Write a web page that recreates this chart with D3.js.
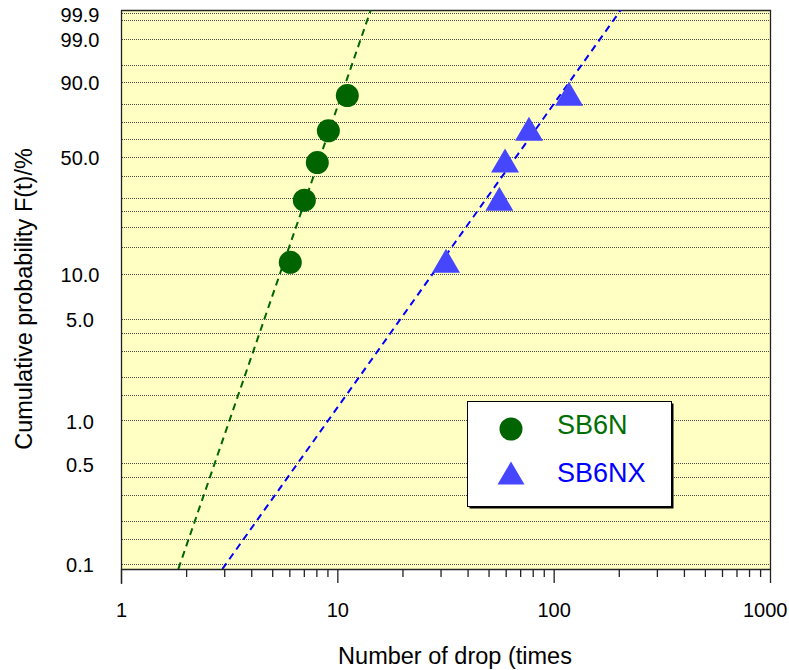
<!DOCTYPE html>
<html>
<head>
<meta charset="utf-8">
<script src="https://cdn.jsdelivr.net/npm/d3@7"></script>
<style>
  html, body { margin: 0; padding: 0; background: #fff; }
  svg { display: block; }
  text { font-family: Arial, "Liberation Sans", Helvetica, sans-serif; }
</style>
</head>
<body>
<svg id="chart" width="789" height="670"></svg>
<script>
// ---- data ----
const sb6nTimes  = [6.06, 7.04, 8.08, 9.09, 11.12];
const sb6nF      = [11.9, 29.1, 46.7, 64.9, 84.2];          // cumulative %
const sb6nxTimes = [31.8, 56.1, 59.6, 76.9, 117.8];
const sb6nxF     = [12.2, 29.7, 47.8, 66.2, 85.1];          // cumulative %
const sb6nFit    = { beta: 4.384, eta: 9.07 };              // Weibull fit line
const sb6nxFit   = { beta: 2.117, eta: 79.9 };
const seriesNames = ["SB6N", "SB6NX"];
const yGridValues = [99.9, 99.8, 99, 95, 90, 80, 70, 60, 50, 40, 30, 25, 20, 15, 10, 5, 4, 3, 2, 1.5, 1, 0.5, 0.4, 0.3, 0.2, 0.15, 0.1];
const yTickLabels = ["99.9", "99.0", "90.0", "50.0", "10.0", "5.0", "1.0", "0.5", "0.1"];
const xTickValues = [1, 10, 100, 1000];
const xTickLabels = ["1", "10", "100", "1000"];
const xTitle = "Number of drop (times";
const yTitle = "Cumulative probability F(t)/%";

// ---- layout ----
const L = 121, R = 770, T = 10, B = 569;
const svg = d3.select("#chart");
const weib = p => Math.log(-Math.log(1 - p / 100));

const x = d3.scaleLog().domain([1, 1000]).range([L, R]);
const y = d3.scaleLinear().domain([weib(0.092), weib(99.932)]).range([B, T]);

// plot background
svg.append("rect").attr("x", L).attr("y", T).attr("width", R - L + 1).attr("height", B - T)
  .attr("fill", "#ffffc4");

// gridlines
svg.append("g").selectAll("line").data(yGridValues).join("line")
  .attr("x1", L + 1).attr("x2", R)
  .attr("y1", d => Math.round(y(weib(d))) + 0.5)
  .attr("y2", d => Math.round(y(weib(d))) + 0.5)
  .attr("stroke", "#444").attr("stroke-width", 1).attr("stroke-dasharray", "1,1");

// plot border (top, right)
svg.append("path")
  .attr("d", `M${L},${T + 0.5}H${R + 0.5}V${B}`)
  .attr("fill", "none").attr("stroke", "#222").attr("stroke-width", 1.3);

// clip for lines
svg.append("clipPath").attr("id", "clip").append("rect")
  .attr("x", L).attr("y", T).attr("width", R - L).attr("height", B - T);

// fit lines
const fits = [
  { fit: sb6nFit, color: "#006600" },
  { fit: sb6nxFit, color: "#0000ff" }
];
const [wLo, wHi] = y.domain();
const lineGen = d3.line().x(d => x(d[0])).y(d => y(d[1]));
fits.forEach(f => {
  const pts = [wLo, wHi].map(w => [f.fit.eta * Math.exp(w / f.fit.beta), w]);
  svg.append("path").attr("d", lineGen(pts)).attr("clip-path", "url(#clip)")
    .attr("fill", "none").attr("stroke", f.color).attr("stroke-width", 2)
    .attr("stroke-dasharray", "7,5");
});

// markers
const circ = sb6nTimes.map((t, i) => [t, sb6nF[i]]);
svg.append("g").selectAll("circle").data(circ).join("circle")
  .attr("cx", d => x(d[0])).attr("cy", d => y(weib(d[1])))
  .attr("r", 11.5).attr("fill", "#006400");

const tri = sb6nxTimes.map((t, i) => [t, sb6nxF[i]]);
const triPath = (cx, cy, w, h) => `M${cx},${cy - h / 2}L${cx + w / 2},${cy + h / 2}L${cx - w / 2},${cy + h / 2}Z`;
svg.append("g").selectAll("path").data(tri).join("path")
  .attr("d", d => triPath(x(d[0]), y(weib(d[1])), 28, 24))
  .attr("fill", "#4646ff");

// x axis (major)
const xAxis = d3.axisBottom(x).tickValues(xTickValues)
  .tickFormat((d, i) => xTickLabels[i]).tickSize(14).tickPadding(20);
const gx = svg.append("g").attr("transform", `translate(0,${B})`).call(xAxis);
gx.select(".domain").remove();
gx.selectAll("line").attr("stroke", "#222").attr("stroke-width", 1.3);
gx.selectAll("text").attr("font-size", 20).attr("fill", "#000")
  .style("font-family", "Arial, 'Liberation Sans', sans-serif");
gx.selectAll("text").filter(d => d === 1000).attr("text-anchor", "end").attr("x", 17);

// minor ticks
const minor = [];
[1, 10, 100].forEach(dec => { for (let k = 2; k <= 9; k++) minor.push(dec * k); });
const gxm = svg.append("g").attr("transform", `translate(0,${B})`)
  .call(d3.axisBottom(x).tickValues(minor).tickFormat("").tickSize(8));
gxm.select(".domain").remove();
gxm.selectAll("line").attr("stroke", "#222").attr("stroke-width", 1.3);

// axis lines
svg.append("line").attr("x1", L).attr("x2", R + 1).attr("y1", B + 0.5).attr("y2", B + 0.5)
  .attr("stroke", "#222").attr("stroke-width", 1.3);
svg.append("line").attr("x1", L + 0.5).attr("x2", L + 0.5).attr("y1", T).attr("y2", B + 15)
  .attr("stroke", "#222").attr("stroke-width", 1.3);

// y labels
svg.append("g").selectAll("text").data(yTickLabels).join("text")
  .attr("x", 80).attr("y", d => y(weib(+d)) + 1.5).attr("dy", "0.35em")
  .attr("text-anchor", "middle").attr("font-size", 20).attr("fill", "#000")
  .text(d => d);

// axis titles
svg.append("text").attr("x", 455).attr("y", 664).attr("text-anchor", "middle")
  .attr("font-size", 23.5).attr("fill", "#000").text(xTitle);
svg.append("text").attr("transform", "translate(32,299) rotate(-90)")
  .attr("text-anchor", "middle").attr("font-size", 23.5).attr("fill", "#000").text(yTitle);

// legend
const lg = svg.append("g");
lg.append("rect").attr("x", 469.5).attr("y", 403.5).attr("width", 204).attr("height", 105).attr("fill", "#000");
lg.append("rect").attr("x", 467.5).attr("y", 401.5).attr("width", 204).attr("height", 105)
  .attr("fill", "#fff").attr("stroke", "#000").attr("stroke-width", 1);
lg.append("circle").attr("cx", 511).attr("cy", 429).attr("r", 11.5).attr("fill", "#006400");
lg.append("path").attr("d", triPath(511, 473, 27, 23)).attr("fill", "#4646ff");
lg.append("text").attr("x", 557).attr("y", 434).attr("font-size", 27).attr("fill", "#006e00").text(seriesNames[0]);
lg.append("text").attr("x", 557).attr("y", 482).attr("font-size", 27).attr("fill", "#0000ff").text(seriesNames[1]);
</script>
</body>
</html>
